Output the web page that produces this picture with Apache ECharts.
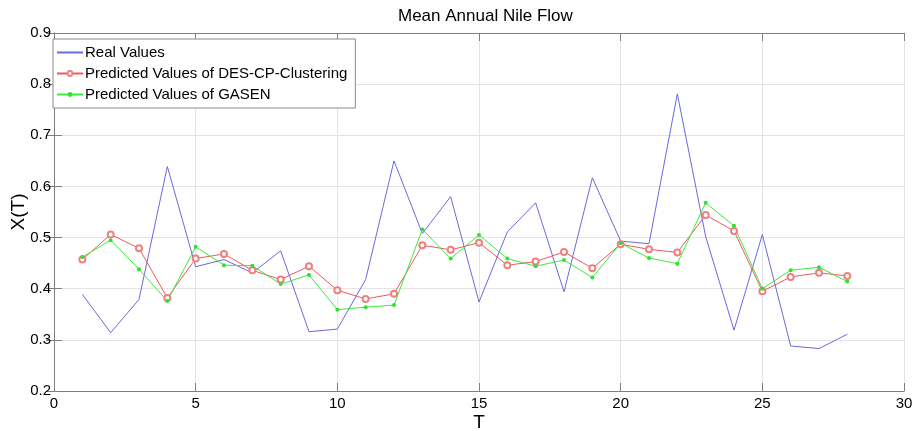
<!DOCTYPE html>
<html>
<head>
<meta charset="utf-8">
<script src="https://cdn.jsdelivr.net/npm/echarts@6/dist/echarts.min.js"></script>
<style>
  html, body { margin: 0; padding: 0; background: #fff; }
  #chart { width: 922px; height: 431px; }
</style>
</head>
<body>
<div id="chart"></div>
<script>
// T = 1..28
const tValues = [1, 2, 3, 4, 5, 6, 7, 8, 9, 10, 11, 12, 13, 14, 15, 16, 17, 18, 19, 20, 21, 22, 23, 24, 25, 26, 27, 28];
const realValues = [0.389, 0.314, 0.379, 0.639, 0.443, 0.457, 0.431, 0.474, 0.316, 0.321, 0.418, 0.650, 0.508, 0.580,
  0.374, 0.511, 0.568, 0.394, 0.617, 0.493, 0.488, 0.781, 0.502, 0.319, 0.506, 0.288, 0.283, 0.311];
const desValues = [0.457, 0.506, 0.479, 0.382, 0.459, 0.468, 0.436, 0.418, 0.444, 0.397, 0.380, 0.390, 0.485, 0.476,
  0.490, 0.446, 0.453, 0.472, 0.440, 0.487, 0.477, 0.471, 0.544, 0.513, 0.395, 0.423, 0.431, 0.425];
const gasenValues = [0.462, 0.495, 0.438, 0.376, 0.482, 0.446, 0.445, 0.409, 0.427, 0.359, 0.364, 0.368, 0.516, 0.459,
  0.505, 0.459, 0.444, 0.456, 0.422, 0.489, 0.460, 0.449, 0.568, 0.523, 0.400, 0.436, 0.442, 0.414];

const pairs = (ys) => tValues.map((t, i) => [t, ys[i]]);
const font = 'Liberation Sans, Arial, sans-serif';
const frame = '#7f7f7f';
const blue = '#6a6adc', red = '#ee5a5a', green = '#3ee83e';

const chart = echarts.init(document.getElementById('chart'));
chart.setOption({
  animation: false,
  backgroundColor: '#fff',
  title: {
    text: 'Mean Annual Nile Flow',
    left: 393,
    top: 3,
    textStyle: { fontFamily: font, fontSize: 17, fontWeight: 'normal', color: '#000' }
  },
  grid: { left: 54, right: 18, top: 33, bottom: 40, outerBoundsMode: 'none', containLabel: false },
  legend: {
    orient: 'vertical',
    left: 53,
    top: 39,
    padding: [6, 8, 6, 3],
    itemGap: 6,
    itemWidth: 26,
    itemHeight: 6,
    backgroundColor: '#fff',
    borderColor: '#8a8a8a',
    borderWidth: 1,
    borderRadius: 0,
    textStyle: { fontFamily: font, fontSize: 15, color: '#000', padding: [0, 0, 0, -3] },
    data: [
      { name: 'Real Values', itemStyle: { opacity: 0 } },
      { name: 'Predicted Values of DES-CP-Clustering' },
      { name: 'Predicted Values of GASEN' }
    ]
  },
  xAxis: [{
    type: 'value', min: 0, max: 30, interval: 5,
    name: 'T', nameLocation: 'middle', nameGap: 22, nameMoveOverlap: false,
    nameTextStyle: { fontFamily: font, fontSize: 19, color: '#000' },
    axisLine: { lineStyle: { color: frame } },
    axisTick: { inside: true, length: 8, lineStyle: { color: frame } },
    axisLabel: { fontFamily: font, fontSize: 15, color: '#000', margin: 5 },
    splitLine: { show: true, lineStyle: { color: '#e4e4e4' } }
  }, {
    type: 'value', min: 0, max: 30, interval: 5, position: 'top',
    axisLine: { show: true, lineStyle: { color: frame } },
    axisTick: { inside: true, length: 8, lineStyle: { color: frame } },
    axisLabel: { show: false }, splitLine: { show: false }
  }],
  yAxis: [{
    type: 'value', min: 0.2, max: 0.9, interval: 0.1,
    name: 'X(T)', nameLocation: 'middle', nameGap: 26, nameMoveOverlap: false,
    nameTextStyle: { fontFamily: font, fontSize: 19, color: '#000' },
    axisLine: { show: true, lineStyle: { color: frame } },
    axisTick: { show: true, inside: true, length: 8, lineStyle: { color: frame } },
    axisLabel: { fontFamily: font, fontSize: 15, color: '#000', margin: 3, formatter: v => +v.toFixed(1) + '' },
    splitLine: { show: true, lineStyle: { color: '#e4e4e4' } }
  }, {
    type: 'value', min: 0.2, max: 0.9, interval: 0.1, position: 'right',
    axisLine: { show: true, lineStyle: { color: frame } },
    axisTick: { show: true, inside: true, length: 8, lineStyle: { color: frame } },
    axisLabel: { show: false }, splitLine: { show: false }
  }],
  series: [{
    name: 'Real Values',
    type: 'line',
    data: pairs(realValues),
    showSymbol: false,
    symbol: 'none',
    lineStyle: { color: blue, width: 1 },
    itemStyle: { color: blue }
  }, {
    name: 'Predicted Values of DES-CP-Clustering',
    type: 'line',
    data: pairs(desValues),
    symbol: 'emptyCircle',
    symbolSize: 6,
    lineStyle: { color: red, width: 1 },
    itemStyle: { color: '#f08080', borderWidth: 1 }
  }, {
    name: 'Predicted Values of GASEN',
    type: 'line',
    data: pairs(gasenValues),
    symbol: 'circle',
    symbolSize: 4,
    lineStyle: { color: green, width: 1 },
    itemStyle: { color: '#2fe02f' }
  }]
});
</script>
</body>
</html>
